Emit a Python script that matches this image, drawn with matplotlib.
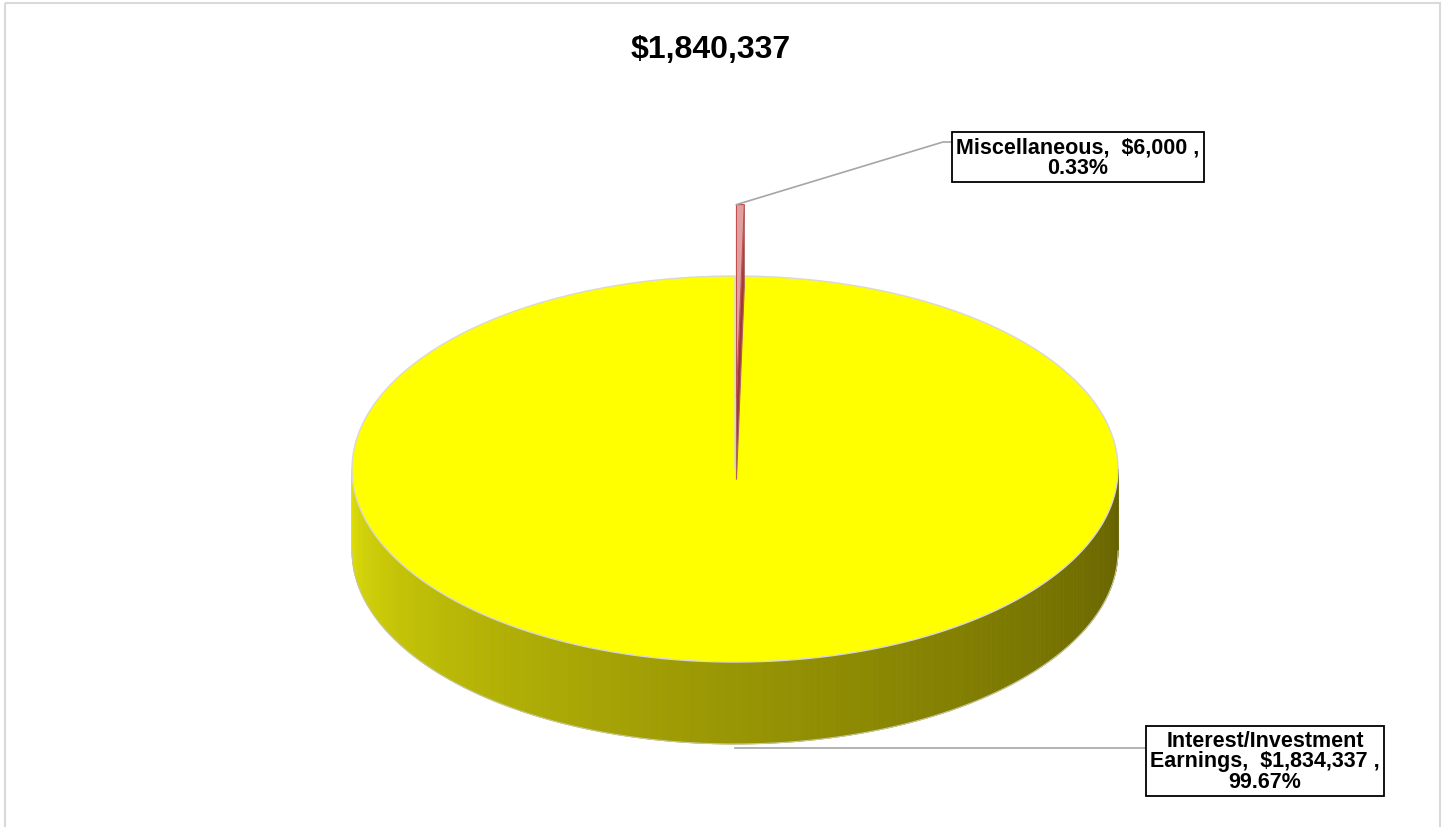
import numpy as np
import matplotlib.pyplot as plt
from matplotlib.patches import Polygon, Rectangle

plt.rcParams['font.family'] = ['Liberation Sans', 'DejaVu Sans']

# data
labels = ['Interest/Investment\nEarnings', 'Miscellaneous']
values = [1834337, 6000]
title = '$1,840,337'

total = sum(values)
pcts = [v / total * 100 for v in values]

# pie geometry (pixels)
cx, cy = 735, 470
rx, ry = 383, 193
depth = 82

fig = plt.figure(figsize=(14.47, 8.28), dpi=100)
ax = fig.add_axes([0, 0, 1, 1])
ax.set_xlim(0, 1447)
ax.set_ylim(828, 0)
ax.axis('off')

ax.add_patch(Rectangle((5, 4), 1435, 840, fill=False, ec='#D9D9D9', lw=1.5))


def pt(theta, ox=0, oy=0, dz=0):
    t = np.radians(theta)
    return cx + ox + rx * np.cos(t), cy + oy - ry * np.sin(t) + dz


# angles, clockwise from 12 o'clock, misc first
sweep_misc = 360 * values[1] / total
a0 = 90
a1 = 90 - sweep_misc

# main slice side (front half) with shading
for th in np.arange(180, 360, 1.0):
    t2 = th + 1.0
    p1, p2 = pt(th), pt(t2)
    q1, q2 = pt(th, dz=depth), pt(t2, dz=depth)
    f = (th - 180) / 180
    c0 = np.array([228, 228, 10]) / 255
    c1 = np.array([100, 96, 0]) / 255
    col = c0 + (c1 - c0) * f ** 0.75
    ax.add_patch(Polygon([p1, p2, q2, q1], closed=True, fc=col, ec=col, lw=0.6))

# outline of side bottom
ths = np.linspace(180, 360, 200)
bx, by = zip(*[pt(t, dz=depth) for t in ths])
ax.plot(bx, by, color='#C8C8A0', lw=0.8)

# main top face with a notch for misc slice
ths = np.linspace(a1, a0 - 360, 400)
poly = [(cx, cy)] + [pt(t) for t in ths]
ax.add_patch(Polygon(poly, closed=True, fc='#FFFF00', ec='#D8D8D8', lw=1.0))

# misc slice, exploded
mid = np.radians((a0 + a1) / 2)
f_exp = 0.37
ox, oy = f_exp * rx * np.cos(mid), -f_exp * ry * np.sin(mid)
ths = np.linspace(a0, a1, 10)
top = [(cx + ox, cy + oy)] + [pt(t, ox, oy) for t in ths]
side = [(cx + ox, cy + oy), pt(a1, ox, oy), pt(a1, ox, oy, depth), (cx + ox, cy + oy + depth)]
ax.add_patch(Polygon(side, closed=True, fc='#9C3A3A', ec='#B06060', lw=0.8))
ax.add_patch(Polygon(top, closed=True, fc='#E0A0A0', ec='#C05050', lw=0.8))

# title
ax.text(711, 50, title, ha='center', va='center', fontsize=23, fontweight='bold')

# labels with leader lines
lbl_misc = f'{labels[1]},  ${values[1]:,} ,\n{pcts[1]:.2f}%'
lbl_int = f'{labels[0]},  ${values[0]:,} ,\n{pcts[0]:.2f}%'

mx, my = pt(90, ox, oy)
ax.plot([mx, 943, 951], [my, 143, 143], color='#A6A6A6', lw=1.2)
ax.text(1078, 158, lbl_misc, ha='center', va='center', fontsize=15.5, fontweight='bold',
        linespacing=0.95,
        bbox=dict(boxstyle='square,pad=0.2', fc='white', ec='black', lw=1.3))

ax.plot([cx, 1145], [749, 749], color='#A6A6A6', lw=1.2)
ax.text(1265, 762, lbl_int, ha='center', va='center', fontsize=15.5, fontweight='bold',
        linespacing=0.95,
        bbox=dict(boxstyle='square,pad=0.2', fc='white', ec='black', lw=1.3))

fig.savefig('out.png', dpi=100)
